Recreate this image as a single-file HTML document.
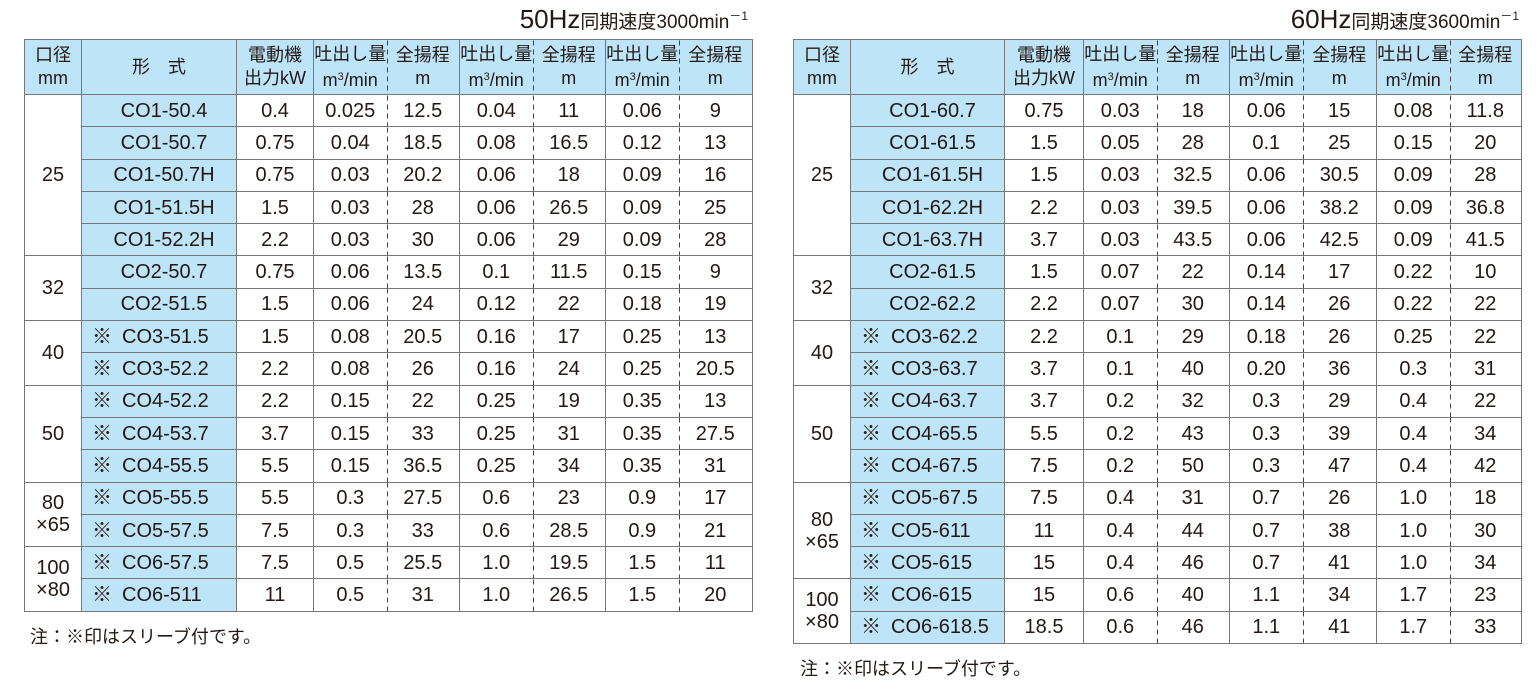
<!DOCTYPE html>
<html><head><meta charset="utf-8"><style>
body{margin:0;width:1539px;height:682px;background:#fff;position:relative;overflow:hidden;font-family:"Liberation Sans","Noto Sans CJK JP",sans-serif;color:#231815}
.title{position:absolute;top:4px;font-size:19px;white-space:nowrap}
.title b{font-weight:normal;font-size:26px}
.title sup{font-size:12px;vertical-align:8px}
table{position:absolute;top:39px;border-collapse:collapse;table-layout:fixed;border:1.5px solid #333}
td{border:1px solid #777;text-align:center;font-size:20px;padding:0;line-height:20px;height:31.3px}
thead td{background-color:#bee4f8;font-size:18px;height:54px;line-height:23px}
td.b{background:#bee4f8}
td.n{padding-left:10px}
td.k{text-align:left;padding-left:10px}
td.k span{margin-right:10px}
td.dl{border-left-style:hidden;background-image:linear-gradient(#444 55%,transparent 55%);background-size:1px 9px;background-repeat:repeat-y;background-position:0 0}
td.g{line-height:22px;font-size:20px}
.note{position:absolute;font-size:18px}
sup.s{font-size:11px;vertical-align:6px}
</style></head><body>
<div class="title" style="right:791px">
<b>50Hz</b>同期速度3000min<sup>－1</sup></div>
<div class="title" style="right:20px"><b>60Hz</b>同期速度3600min<sup>－1</sup></div>

<table style="left:24px;width:728px">
<colgroup><col style="width:57px"><col style="width:155px"><col style="width:77px"><col style="width:73px"><col style="width:73px"><col style="width:73px"><col style="width:73px"><col style="width:73px"><col style="width:74px"></colgroup>
<thead><tr><td>口径<br>mm</td><td>形　式</td><td>電動機<br>出力kW</td><td>吐出し量<br>m<sup class="s">3</sup>/min</td><td class="dl">全揚程<br>m</td><td>吐出し量<br>m<sup class="s">3</sup>/min</td><td class="dl">全揚程<br>m</td><td>吐出し量<br>m<sup class="s">3</sup>/min</td><td class="dl">全揚程<br>m</td></tr></thead>
<tbody>
<tr><td rowspan="5">25</td><td class="b n">CO1-50.4</td><td>0.4</td><td>0.025</td><td class="dl">12.5</td><td>0.04</td><td class="dl">11</td><td>0.06</td><td class="dl">9</td></tr>
<tr><td class="b n">CO1-50.7</td><td>0.75</td><td>0.04</td><td class="dl">18.5</td><td>0.08</td><td class="dl">16.5</td><td>0.12</td><td class="dl">13</td></tr>
<tr><td class="b n">CO1-50.7H</td><td>0.75</td><td>0.03</td><td class="dl">20.2</td><td>0.06</td><td class="dl">18</td><td>0.09</td><td class="dl">16</td></tr>
<tr><td class="b n">CO1-51.5H</td><td>1.5</td><td>0.03</td><td class="dl">28</td><td>0.06</td><td class="dl">26.5</td><td>0.09</td><td class="dl">25</td></tr>
<tr><td class="b n">CO1-52.2H</td><td>2.2</td><td>0.03</td><td class="dl">30</td><td>0.06</td><td class="dl">29</td><td>0.09</td><td class="dl">28</td></tr>
<tr><td rowspan="2">32</td><td class="b n">CO2-50.7</td><td>0.75</td><td>0.06</td><td class="dl">13.5</td><td>0.1</td><td class="dl">11.5</td><td>0.15</td><td class="dl">9</td></tr>
<tr><td class="b n">CO2-51.5</td><td>1.5</td><td>0.06</td><td class="dl">24</td><td>0.12</td><td class="dl">22</td><td>0.18</td><td class="dl">19</td></tr>
<tr><td rowspan="2">40</td><td class="b k"><span>※</span>CO3-51.5</td><td>1.5</td><td>0.08</td><td class="dl">20.5</td><td>0.16</td><td class="dl">17</td><td>0.25</td><td class="dl">13</td></tr>
<tr><td class="b k"><span>※</span>CO3-52.2</td><td>2.2</td><td>0.08</td><td class="dl">26</td><td>0.16</td><td class="dl">24</td><td>0.25</td><td class="dl">20.5</td></tr>
<tr><td rowspan="3">50</td><td class="b k"><span>※</span>CO4-52.2</td><td>2.2</td><td>0.15</td><td class="dl">22</td><td>0.25</td><td class="dl">19</td><td>0.35</td><td class="dl">13</td></tr>
<tr><td class="b k"><span>※</span>CO4-53.7</td><td>3.7</td><td>0.15</td><td class="dl">33</td><td>0.25</td><td class="dl">31</td><td>0.35</td><td class="dl">27.5</td></tr>
<tr><td class="b k"><span>※</span>CO4-55.5</td><td>5.5</td><td>0.15</td><td class="dl">36.5</td><td>0.25</td><td class="dl">34</td><td>0.35</td><td class="dl">31</td></tr>
<tr><td rowspan="2" class="g">80<br>×65</td><td class="b k"><span>※</span>CO5-55.5</td><td>5.5</td><td>0.3</td><td class="dl">27.5</td><td>0.6</td><td class="dl">23</td><td>0.9</td><td class="dl">17</td></tr>
<tr><td class="b k"><span>※</span>CO5-57.5</td><td>7.5</td><td>0.3</td><td class="dl">33</td><td>0.6</td><td class="dl">28.5</td><td>0.9</td><td class="dl">21</td></tr>
<tr><td rowspan="2" class="g">100<br>×80</td><td class="b k"><span>※</span>CO6-57.5</td><td>7.5</td><td>0.5</td><td class="dl">25.5</td><td>1.0</td><td class="dl">19.5</td><td>1.5</td><td class="dl">11</td></tr>
<tr><td class="b k"><span>※</span>CO6-511</td><td>11</td><td>0.5</td><td class="dl">31</td><td>1.0</td><td class="dl">26.5</td><td>1.5</td><td class="dl">20</td></tr>
</tbody></table>
<div class="note" style="left:30px;top:623px">注：※印はスリーブ付です。</div>

<table style="left:793px;width:728px">
<colgroup><col style="width:57px"><col style="width:154px"><col style="width:79px"><col style="width:73px"><col style="width:73px"><col style="width:73px"><col style="width:74px"><col style="width:73px"><col style="width:72px"></colgroup>
<thead><tr><td>口径<br>mm</td><td>形　式</td><td>電動機<br>出力kW</td><td>吐出し量<br>m<sup class="s">3</sup>/min</td><td class="dl">全揚程<br>m</td><td>吐出し量<br>m<sup class="s">3</sup>/min</td><td class="dl">全揚程<br>m</td><td>吐出し量<br>m<sup class="s">3</sup>/min</td><td class="dl">全揚程<br>m</td></tr></thead>
<tbody>
<tr><td rowspan="5">25</td><td class="b n">CO1-60.7</td><td>0.75</td><td>0.03</td><td class="dl">18</td><td>0.06</td><td class="dl">15</td><td>0.08</td><td class="dl">11.8</td></tr>
<tr><td class="b n">CO1-61.5</td><td>1.5</td><td>0.05</td><td class="dl">28</td><td>0.1</td><td class="dl">25</td><td>0.15</td><td class="dl">20</td></tr>
<tr><td class="b n">CO1-61.5H</td><td>1.5</td><td>0.03</td><td class="dl">32.5</td><td>0.06</td><td class="dl">30.5</td><td>0.09</td><td class="dl">28</td></tr>
<tr><td class="b n">CO1-62.2H</td><td>2.2</td><td>0.03</td><td class="dl">39.5</td><td>0.06</td><td class="dl">38.2</td><td>0.09</td><td class="dl">36.8</td></tr>
<tr><td class="b n">CO1-63.7H</td><td>3.7</td><td>0.03</td><td class="dl">43.5</td><td>0.06</td><td class="dl">42.5</td><td>0.09</td><td class="dl">41.5</td></tr>
<tr><td rowspan="2">32</td><td class="b n">CO2-61.5</td><td>1.5</td><td>0.07</td><td class="dl">22</td><td>0.14</td><td class="dl">17</td><td>0.22</td><td class="dl">10</td></tr>
<tr><td class="b n">CO2-62.2</td><td>2.2</td><td>0.07</td><td class="dl">30</td><td>0.14</td><td class="dl">26</td><td>0.22</td><td class="dl">22</td></tr>
<tr><td rowspan="2">40</td><td class="b k"><span>※</span>CO3-62.2</td><td>2.2</td><td>0.1</td><td class="dl">29</td><td>0.18</td><td class="dl">26</td><td>0.25</td><td class="dl">22</td></tr>
<tr><td class="b k"><span>※</span>CO3-63.7</td><td>3.7</td><td>0.1</td><td class="dl">40</td><td>0.20</td><td class="dl">36</td><td>0.3</td><td class="dl">31</td></tr>
<tr><td rowspan="3">50</td><td class="b k"><span>※</span>CO4-63.7</td><td>3.7</td><td>0.2</td><td class="dl">32</td><td>0.3</td><td class="dl">29</td><td>0.4</td><td class="dl">22</td></tr>
<tr><td class="b k"><span>※</span>CO4-65.5</td><td>5.5</td><td>0.2</td><td class="dl">43</td><td>0.3</td><td class="dl">39</td><td>0.4</td><td class="dl">34</td></tr>
<tr><td class="b k"><span>※</span>CO4-67.5</td><td>7.5</td><td>0.2</td><td class="dl">50</td><td>0.3</td><td class="dl">47</td><td>0.4</td><td class="dl">42</td></tr>
<tr><td rowspan="3" class="g">80<br>×65</td><td class="b k"><span>※</span>CO5-67.5</td><td>7.5</td><td>0.4</td><td class="dl">31</td><td>0.7</td><td class="dl">26</td><td>1.0</td><td class="dl">18</td></tr>
<tr><td class="b k"><span>※</span>CO5-611</td><td>11</td><td>0.4</td><td class="dl">44</td><td>0.7</td><td class="dl">38</td><td>1.0</td><td class="dl">30</td></tr>
<tr><td class="b k"><span>※</span>CO5-615</td><td>15</td><td>0.4</td><td class="dl">46</td><td>0.7</td><td class="dl">41</td><td>1.0</td><td class="dl">34</td></tr>
<tr><td rowspan="2" class="g">100<br>×80</td><td class="b k"><span>※</span>CO6-615</td><td>15</td><td>0.6</td><td class="dl">40</td><td>1.1</td><td class="dl">34</td><td>1.7</td><td class="dl">23</td></tr>
<tr><td class="b k"><span>※</span>CO6-618.5</td><td>18.5</td><td>0.6</td><td class="dl">46</td><td>1.1</td><td class="dl">41</td><td>1.7</td><td class="dl">33</td></tr>
</tbody></table>
<div class="note" style="left:800px;top:655px">注：※印はスリーブ付です。</div>
</body></html>
